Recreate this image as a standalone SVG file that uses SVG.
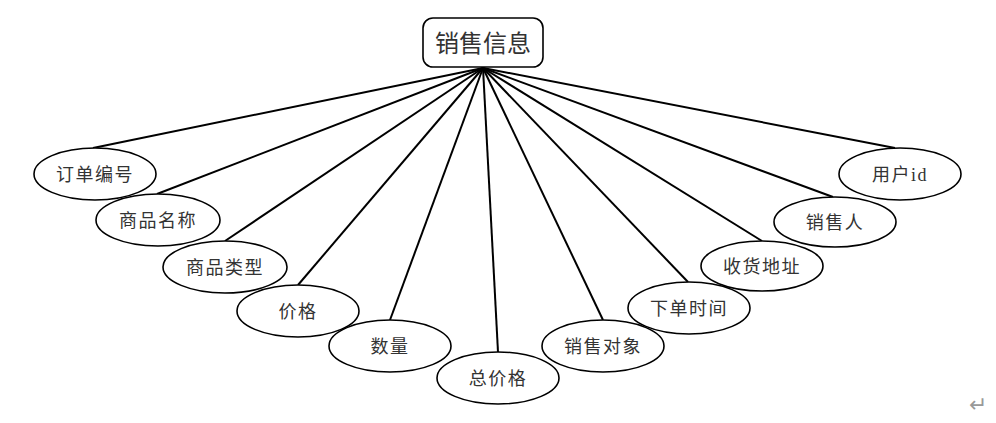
<svg xmlns="http://www.w3.org/2000/svg" width="996" height="423" viewBox="0 0 996 423">
<style>
.e{fill:#fff;stroke:#000;stroke-width:1.6}
.t{font-family:"Liberation Serif","Noto Sans CJK SC",sans-serif;font-size:18px;fill:#333;text-anchor:middle;letter-spacing:1.5px}
.c line{stroke:#000;stroke-width:2}
</style>
<rect width="996" height="423" fill="#fff"/>
<g class="c" id="connectors">
<line x1="483" y1="68" x2="93" y2="148"/>
<line x1="483" y1="68" x2="157" y2="194"/>
<line x1="483" y1="68" x2="225" y2="241"/>
<line x1="483" y1="68" x2="298" y2="285"/>
<line x1="483" y1="68" x2="390" y2="320"/>
<line x1="483" y1="68" x2="498" y2="352"/>
<line x1="483" y1="68" x2="603" y2="320"/>
<line x1="483" y1="68" x2="688" y2="282"/>
<line x1="483" y1="68" x2="762" y2="241"/>
<line x1="483" y1="68" x2="833" y2="197"/>
<line x1="483" y1="68" x2="895" y2="148"/>
</g>
<g id="root">
<rect x="423" y="18" width="120" height="49" rx="10" fill="#fff" stroke="#000" stroke-width="1.6"/>
<text x="483" y="52" style="font-family:'Noto Sans CJK SC',sans-serif;font-size:24px;fill:#333;text-anchor:middle">销售信息</text>
</g>
<g id="n1"><ellipse class="e" cx="95" cy="174" rx="61" ry="26"/><text class="t" x="95" y="181">订单编号</text></g>
<g id="n2"><ellipse class="e" cx="158" cy="220" rx="62" ry="26"/><text class="t" x="158" y="227">商品名称</text></g>
<g id="n3"><ellipse class="e" cx="225" cy="267" rx="62" ry="26"/><text class="t" x="225" y="274">商品类型</text></g>
<g id="n4"><ellipse class="e" cx="298" cy="311" rx="61" ry="26"/><text class="t" x="298" y="318">价格</text></g>
<g id="n5"><ellipse class="e" cx="390" cy="346" rx="61" ry="26"/><text class="t" x="390" y="353">数量</text></g>
<g id="n6"><ellipse class="e" cx="498" cy="378" rx="61" ry="26"/><text class="t" x="498" y="385">总价格</text></g>
<g id="n7"><ellipse class="e" cx="603" cy="346" rx="61" ry="26"/><text class="t" x="603" y="353">销售对象</text></g>
<g id="n8"><ellipse class="e" cx="689" cy="308" rx="61" ry="26"/><text class="t" x="689" y="315">下单时间</text></g>
<g id="n9"><ellipse class="e" cx="762" cy="266" rx="61" ry="25"/><text class="t" x="762" y="273">收货地址</text></g>
<g id="n10"><ellipse class="e" cx="835" cy="222" rx="61" ry="25"/><text class="t" x="835" y="229">销售人</text></g>
<g id="n11"><ellipse class="e" cx="900" cy="174" rx="61" ry="26"/><text class="t" x="900" y="181">用户id</text></g>
<text x="978" y="412" style="font-family:'DejaVu Sans',sans-serif;font-size:22px;fill:#999;text-anchor:middle">↵</text>
</svg>
